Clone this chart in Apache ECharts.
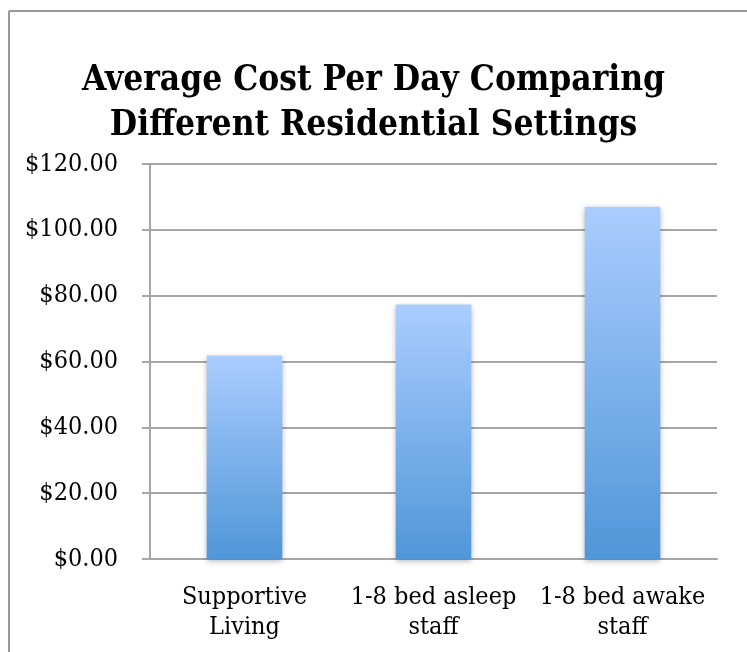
<!DOCTYPE html>
<html>
<head>
<meta charset="utf-8">
<script src="https://cdn.jsdelivr.net/npm/echarts@6/dist/echarts.min.js"></script>
<style>
  html, body { margin: 0; padding: 0; background: #fff; }
  #chart { width: 747px; height: 652px; }
</style>
</head>
<body>
<div id="chart"></div>
<script>
  var categories = ['Supportive\nLiving', '1-8 bed asleep\nstaff', '1-8 bed awake\nstaff']
  var costPerDay = [61.8, 77.3, 107.0]
  var yTicks = [0, 20, 40, 60, 80, 100, 120]

  var fontFamily = "'DejaVu Serif Condensed', 'Liberation Serif', serif"
  var chart = echarts.init(document.getElementById('chart'))

  chart.setOption({
    animation: false,
    title: {
      text: 'Average Cost Per Day Comparing\nDifferent Residential Settings',
      left: 'center',
      top: 53,
      textStyle: {
        fontFamily: fontFamily,
        fontWeight: 'bold',
        fontSize: 35,
        lineHeight: 45,
        color: '#000'
      }
    },
    // chart frame (only top and left edges are visible in the original)
    graphic: [
      { type: 'line', shape: { x1: 9, y1: 11, x2: 747, y2: 11 }, style: { stroke: '#999', lineWidth: 2 } },
      { type: 'line', shape: { x1: 9, y1: 11, x2: 9, y2: 652 }, style: { stroke: '#999', lineWidth: 2 } }
    ],
    grid: {
      left: 150,
      right: 30,
      top: 164,
      bottom: 93
    },
    xAxis: {
      type: 'category',
      data: categories,
      axisLine: { lineStyle: { color: '#a6a6a6', width: 2 } },
      axisTick: { length: 8, lineStyle: { color: '#a6a6a6', width: 2 } },
      axisLabel: {
        interval: 0,
        margin: 23,
        fontFamily: fontFamily,
        fontSize: 25,
        lineHeight: 30,
        color: '#000'
      }
    },
    yAxis: {
      type: 'value',
      min: yTicks[0],
      max: yTicks[yTicks.length - 1],
      interval: 20,
      axisLine: { show: true, lineStyle: { color: '#a6a6a6', width: 2 } },
      axisTick: { show: true, length: 8, lineStyle: { color: '#a6a6a6', width: 2 } },
      splitLine: { lineStyle: { color: '#a6a6a6', width: 2 } },
      axisLabel: {
        margin: 32,
        fontFamily: fontFamily,
        fontSize: 25,
        color: '#000',
        formatter: function (v) { return '$' + v.toFixed(2) }
      }
    },
    series: [{
      type: 'bar',
      data: costPerDay,
      barWidth: '40%',
      itemStyle: {
        color: new echarts.graphic.LinearGradient(0, 0, 0, 1, [
          { offset: 0, color: '#aacdfe' },
          { offset: 1, color: '#5096d9' }
        ]),
        shadowColor: 'rgba(0,0,0,0.3)',
        shadowBlur: 6,
        shadowOffsetY: 2
      }
    }]
  })
</script>
</body>
</html>
